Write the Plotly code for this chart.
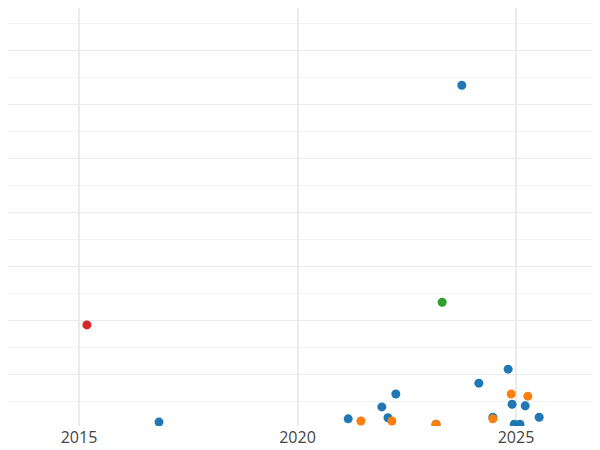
import plotly.graph_objects as go

blue_x = [2016.83, 2023.76, 2021.16, 2021.93, 2022.07, 2022.25, 2023.17, 2024.15, 2024.47, 2024.82, 2024.91, 2024.96, 2025.09, 2025.21, 2025.53]
blue_y = [0.11, 6.35, 0.17, 0.39, 0.19, 0.63, 0.07, 0.83, 0.20, 1.09, 0.44, 0.07, 0.07, 0.41, 0.20]
orange_x = [2021.45, 2022.16, 2023.17, 2024.47, 2024.89, 2025.27]
orange_y = [0.13, 0.13, 0.07, 0.17, 0.63, 0.59]
green_x = [2023.31]
green_y = [2.33]
red_x = [2015.18]
red_y = [1.91]

fig = go.Figure()
for xs, ys, c in [(blue_x, blue_y, "#1f77b4"), (orange_x, orange_y, "#ff7f0e"),
                  (green_x, green_y, "#2ca02c"), (red_x, red_y, "#d62728")]:
    fig.add_trace(go.Scatter(x=xs, y=ys, mode="markers", marker=dict(color=c, size=9)))

fig.update_layout(
    template="plotly_white", width=600, height=450, showlegend=False,
    margin=dict(l=0, r=0, t=0, b=32),
    xaxis=dict(range=[2013.375, 2027.105], tickvals=[2015, 2020, 2025], showline=False,
               zeroline=False, tickfont=dict(size=16, color="#444"), gridcolor="#ebebeb", gridwidth=2),
    yaxis=dict(range=[0.037, 7.78], dtick=1, showticklabels=False, zeroline=False,
               gridcolor="#ebebeb", minor=dict(dtick=0.5, showgrid=True, gridcolor="#f3f3f3")),
)
fig.write_html("out.html")
